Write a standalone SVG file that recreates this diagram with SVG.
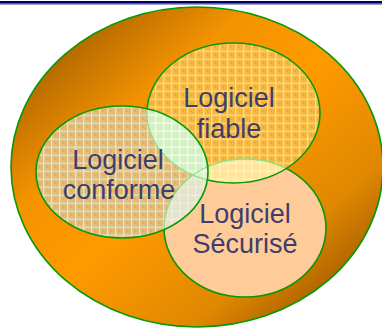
<svg xmlns="http://www.w3.org/2000/svg" width="382" height="328" viewBox="0 0 382 328">
<style>
.lbl{font-family:"Liberation Sans",Arial,sans-serif;font-size:27px;fill:#3e3e6c;text-anchor:middle}
.edge{stroke:#079807;stroke-width:1.6}
.nofill{fill:none}
.soft{fill:none;stroke:#8ee08a;stroke-width:1.3}
</style>
<defs>
<linearGradient id="gBig" x1="0" y1="0" x2="1" y2="1">
<stop offset="0" stop-color="#904c00"/>
<stop offset="0.15" stop-color="#b86c00"/>
<stop offset="0.32" stop-color="#f49300"/>
<stop offset="0.5" stop-color="#ff9a00"/>
<stop offset="0.74" stop-color="#e08800"/>
<stop offset="0.88" stop-color="#a86000"/>
<stop offset="1" stop-color="#8a4a00"/>
</linearGradient>
<pattern id="pFiable" patternUnits="userSpaceOnUse" x="3" y="2.5" width="8" height="8">
<rect width="8" height="8" fill="#f5b640"/>
<rect x="4" y="4" width="1" height="1" fill="#e6962a"/>
<rect width="1.3" height="8" fill="#ffdc7e"/>
<rect width="8" height="1.3" fill="#ffdc7e"/>
</pattern>
<pattern id="pConf" patternUnits="userSpaceOnUse" x="3" y="2.5" width="8" height="8">
<rect width="8" height="8" fill="#e8b870"/>
<rect x="4" y="4" width="1" height="1" fill="#de9a4a"/>
<rect width="1.3" height="8" fill="#cdeedc"/>
<rect width="8" height="1.3" fill="#cdeedc"/>
</pattern>
<pattern id="pCF" patternUnits="userSpaceOnUse" x="3" y="2.5" width="8" height="8">
<rect width="8" height="8" fill="#d6efc0"/>
<rect width="1.3" height="8" fill="#ecfff2"/>
<rect width="8" height="1.3" fill="#ecfff2"/>
</pattern>
<pattern id="pFS" patternUnits="userSpaceOnUse" x="3" y="2.5" width="8" height="8">
<rect width="8" height="8" fill="#ffe49a"/>
<rect width="1.3" height="8" fill="#fff2c0"/>
<rect width="8" height="1.3" fill="#fff2c0"/>
</pattern>
<pattern id="pCS" patternUnits="userSpaceOnUse" x="3" y="2.5" width="8" height="8">
<rect width="8" height="8" fill="#e9e2c8"/>
<rect width="1.3" height="8" fill="#dcf6e6"/>
<rect width="8" height="1.3" fill="#dcf6e6"/>
</pattern>
<pattern id="pCFS" patternUnits="userSpaceOnUse" x="3" y="2.5" width="8" height="8">
<rect width="8" height="8" fill="#ddf3cc"/>
<rect width="1.3" height="8" fill="#f0fff4"/>
<rect width="8" height="1.3" fill="#f0fff4"/>
</pattern>
<clipPath id="cFiable"><ellipse cx="233.5" cy="113" rx="86.5" ry="70"/></clipPath>
<clipPath id="cConf"><ellipse cx="122" cy="172" rx="86" ry="66"/></clipPath>
</defs>

<g id="topbar">
<rect x="0" y="1" width="382" height="2.6" fill="#000066"/>
<rect x="0" y="3.6" width="382" height="1" fill="#5a5aa0"/>
</g>

<g id="logiciel-global">
<ellipse cx="197" cy="167" rx="186" ry="160" fill="url(#gBig)" class="edge"/>
</g>

<g id="logiciel-securise">
<ellipse cx="245" cy="228" rx="81" ry="69" fill="#ffcc99" class="edge"/>
</g>

<g id="logiciel-fiable">
<ellipse cx="233.5" cy="113" rx="86.5" ry="70" fill="url(#pFiable)"/>
<g clip-path="url(#cFiable)">
<ellipse cx="245" cy="228" rx="81" ry="69" fill="url(#pFS)"/>
<ellipse cx="245" cy="228" rx="81" ry="69" class="soft"/>
</g>
<ellipse cx="233.5" cy="113" rx="86.5" ry="70" class="edge nofill"/>
</g>

<g id="logiciel-conforme">
<ellipse cx="122" cy="172" rx="86" ry="66" fill="url(#pConf)"/>
<g clip-path="url(#cConf)">
<ellipse cx="233.5" cy="113" rx="86.5" ry="70" fill="url(#pCF)"/>
<ellipse cx="245" cy="228" rx="81" ry="69" fill="url(#pCS)"/>
<g clip-path="url(#cFiable)">
<ellipse cx="245" cy="228" rx="81" ry="69" fill="url(#pCFS)"/>
</g>
<ellipse cx="233.5" cy="113" rx="86.5" ry="70" class="soft"/>
<ellipse cx="245" cy="228" rx="81" ry="69" class="soft"/>
</g>
<ellipse cx="122" cy="172" rx="86" ry="66" class="edge nofill"/>
</g>

<g id="labels">
<text class="lbl" x="229" y="107">Logiciel</text>
<text class="lbl" x="229" y="138">fiable</text>
<text class="lbl" x="118" y="169">Logiciel</text>
<text class="lbl" x="119" y="199">conforme</text>
<text class="lbl" x="245" y="223">Logiciel</text>
<text class="lbl" x="245" y="253">Sécurisé</text>
</g>

<g id="connectors"/>
</svg>
